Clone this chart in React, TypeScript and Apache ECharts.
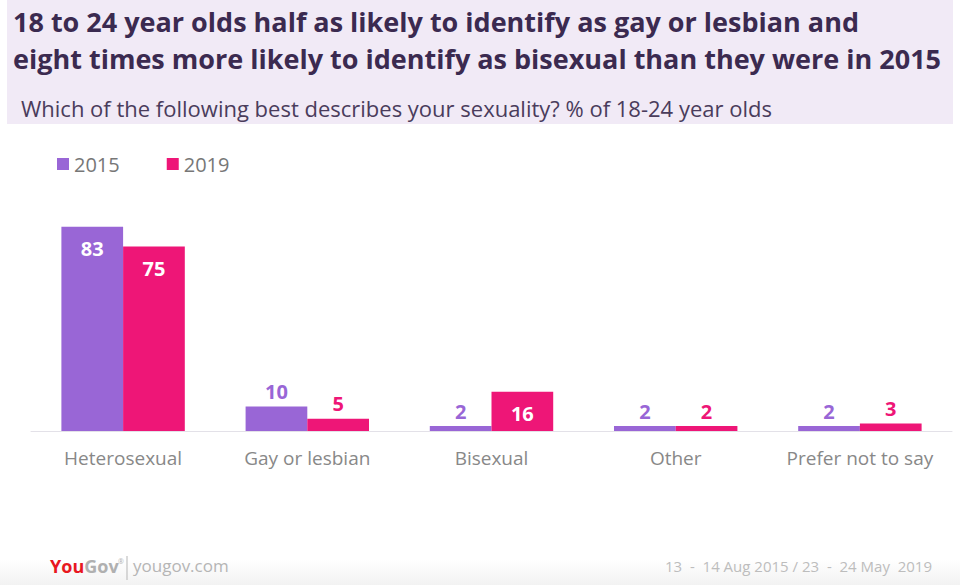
import React, { useEffect, useRef } from "react";
import * as echarts from "echarts";

const categories = ["Heterosexual", "Gay or lesbian", "Bisexual", "Other", "Prefer not to say"];
const values2015 = [83, 10, 2, 2, 2];
const values2019 = [75, 5, 16, 2, 3];
const seriesNames = ["2015", "2019"];
const titleLines = [
  "18 to 24 year olds half as likely to identify as gay or lesbian and",
  "eight times more likely to identify as bisexual than they were in 2015",
];
const subtitle = "Which of the following best describes your sexuality? % of 18-24 year olds";
const dateNote = "13  -  14 Aug 2015 / 23  -  24 May  2019";

const PURPLE = "#9966d6";
const PINK = "#ee1677";
const FONT = "'Open Sans', Lato, sans-serif";

function buildData(values: number[], color: string) {
  return values.map((v) => ({
    value: v,
    label:
      v >= 15
        ? { position: "insideTop", distance: 12, color: "#ffffff" }
        : { position: "top", distance: 5, color },
  }));
}

export default function App() {
  const ref = useRef<HTMLDivElement>(null);
  useEffect(() => {
    if (!ref.current) return;
    const chart = echarts.init(ref.current, null, { renderer: "svg" });
    chart.setOption({
      animation: false,
      backgroundColor: "#ffffff",
      textStyle: { fontFamily: FONT },
      graphic: [
        {
          type: "rect",
          shape: { x: 7, y: 0, width: 946, height: 124 },
          style: { fill: "#f1eaf6" },
          z: -10,
        },
        {
          type: "text",
          x: 13,
          y: 3,
          style: {
            text: titleLines.join("\n"),
            fontSize: 27,
            fontWeight: "bold",
            fontFamily: FONT,
            fill: "#3b2a50",
            lineHeight: 37,
          },
        },
        {
          type: "text",
          x: 21,
          y: 97,
          style: {
            text: subtitle,
            fontSize: 22,
            fontFamily: FONT,
            fill: "#4a3c5c",
          },
        },
        {
          type: "rect",
          shape: { x: 0, y: 560, width: 960, height: 25 },
          style: {
            fill: new echarts.graphic.LinearGradient(0, 0, 0, 1, [
              { offset: 0, color: "#ffffff" },
              { offset: 1, color: "#f2f2f2" },
            ]),
          },
          z: -10,
        },
        {
          type: "text",
          x: 50,
          y: 557,
          style: {
            text: "{you|You}{gov|Gov}",
            fontFamily: FONT,
            rich: {
              you: { fontSize: 18, fontWeight: "bold", fill: "#e8171f", fontFamily: FONT },
              gov: { fontSize: 18, fontWeight: "bold", fill: "#b0b0b0", fontFamily: FONT },
            },
          },
        },
        {
          type: "text",
          x: 118,
          y: 558,
          style: { text: "®", fontSize: 7, fill: "#b0b0b0", fontFamily: FONT },
        },
        {
          type: "line",
          shape: { x1: 127, y1: 556, x2: 127, y2: 580 },
          style: { stroke: "#b5b5b5", lineWidth: 1 },
        },
        {
          type: "text",
          x: 133,
          y: 557,
          style: { text: "yougov.com", fontSize: 17, fill: "#b5b5b5", fontFamily: FONT },
        },
        {
          type: "text",
          x: 932,
          y: 558,
          style: {
            text: dateNote,
            fontSize: 15,
            fill: "#bdbdbd",
            align: "right",
            fontFamily: FONT,
          },
        },
      ],
      legend: {
        left: 52,
        top: 149,
        itemWidth: 12,
        itemHeight: 12,
        itemGap: 47,
        icon: "rect",
        textStyle: { fontSize: 20, color: "#777777", fontFamily: FONT },
        data: seriesNames,
      },
      grid: { left: 31, right: 8, top: 185, height: 246, containLabel: false },
      xAxis: {
        type: "category",
        data: categories,
        axisLine: { lineStyle: { color: "#e3e1e8", width: 1 } },
        axisTick: { show: false },
        axisLabel: { interval: 0, fontSize: 19, color: "#888888", margin: 17, fontFamily: FONT },
      },
      yAxis: {
        type: "value",
        min: 0,
        max: 100,
        show: false,
        splitLine: { show: false },
      },
      series: [
        {
          name: seriesNames[0],
          type: "bar",
          data: buildData(values2015, PURPLE),
          itemStyle: { color: PURPLE },
          barGap: "0%",
          barCategoryGap: "33%",
          label: { show: true, fontSize: 20, fontWeight: "bold", fontFamily: FONT },
        },
        {
          name: seriesNames[1],
          type: "bar",
          data: buildData(values2019, PINK),
          itemStyle: { color: PINK },
          barGap: "0%",
          barCategoryGap: "33%",
          label: { show: true, fontSize: 20, fontWeight: "bold", fontFamily: FONT },
        },
      ],
    });
    return () => chart.dispose();
  }, []);
  return (
    <div
      ref={ref}
      style={{ position: "fixed", left: 0, top: 0, width: 960, height: 585 }}
    />
  );
}
